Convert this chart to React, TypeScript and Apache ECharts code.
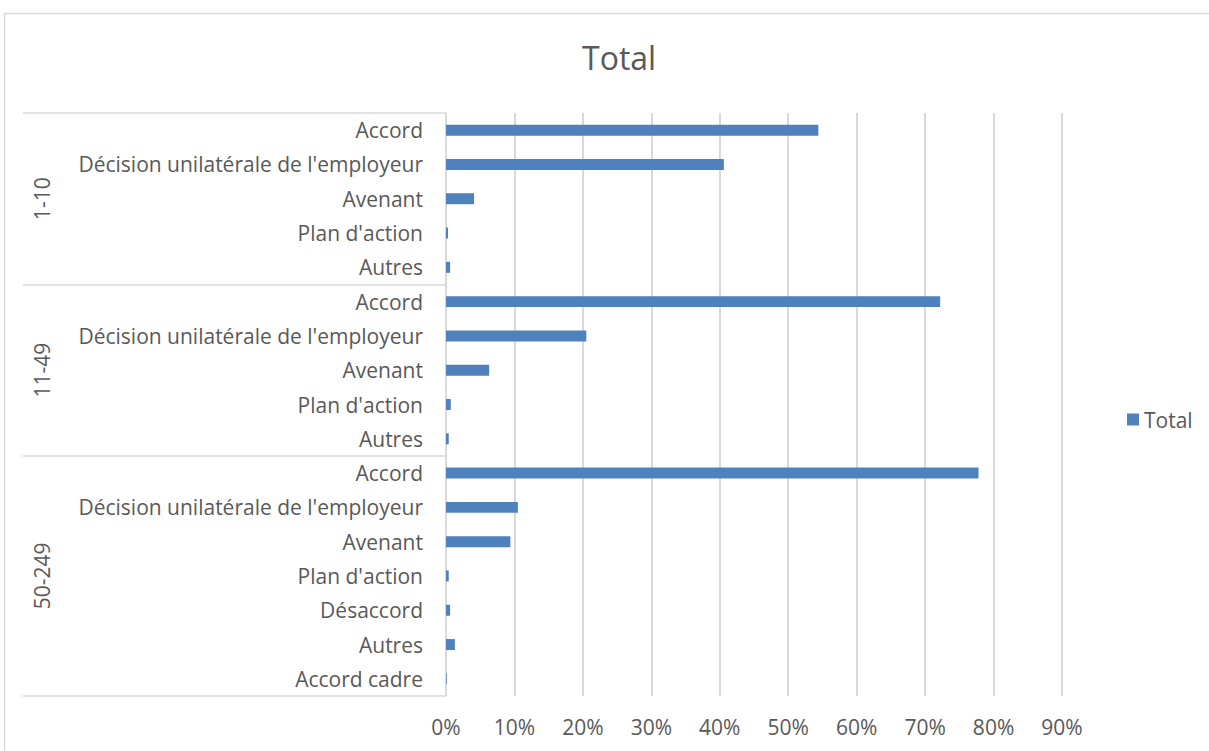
import React, { useEffect, useRef } from "react";
import * as echarts from "echarts";

const categories = [
  "Accord",
  "Décision unilatérale de l'employeur",
  "Avenant",
  "Plan d'action",
  "Autres",
  "Accord",
  "Décision unilatérale de l'employeur",
  "Avenant",
  "Plan d'action",
  "Autres",
  "Accord",
  "Décision unilatérale de l'employeur",
  "Avenant",
  "Plan d'action",
  "Désaccord",
  "Autres",
  "Accord cadre",
];
const values = [54.4, 40.6, 4.1, 0.3, 0.6, 72.2, 20.5, 6.3, 0.7, 0.4, 77.8, 10.5, 9.4, 0.4, 0.6, 1.3, 0.1];
const groupNames = ["1-10", "11-49", "50-249"];
const groupSizes = [5, 5, 7];
const seriesName = "Total";
const textColor = "#595959";
const gridColor = "#d9d9d9";
const barColor = "#4f81bd";
const font = "'Open Sans', sans-serif";

// boundaries (category indices) where a group starts, plus the end
const boundaries: number[] = [0];
groupSizes.forEach((s) => boundaries.push(boundaries[boundaries.length - 1] + s));

export default function App() {
  const ref = useRef<HTMLDivElement>(null);
  useEffect(() => {
    document.body.style.margin = "0";
    const chart = echarts.init(ref.current!, null, { renderer: "svg" });
    chart.setOption({
      animation: false,
      backgroundColor: "#ffffff",
      title: {
        text: "Total",
        left: 577,
        top: 36,
        textStyle: { fontFamily: font, fontSize: 32, fontWeight: "normal", color: textColor },
      },
      legend: {
        data: [seriesName],
        orient: "vertical",
        left: 1122,
        top: 404,
        icon: "rect",
        itemWidth: 12,
        itemHeight: 12,
        textStyle: { fontFamily: font, fontSize: 21, color: textColor },
      },
      grid: { left: 446, right: 147, top: 113, bottom: 55, containLabel: false },
      xAxis: {
        type: "value",
        min: 0,
        max: 90,
        interval: 10,
        axisLine: { show: false },
        axisTick: { show: false },
        splitLine: { show: true, lineStyle: { color: gridColor, width: 2 } },
        axisLabel: {
          formatter: "{value}%",
          margin: 20,
          fontFamily: font,
          fontSize: 21,
          color: textColor,
        },
      },
      yAxis: {
        type: "category",
        inverse: true,
        data: categories,
        axisLine: { show: true, lineStyle: { color: gridColor, width: 1.5 } },
        axisTick: {
          show: true,
          length: 423,
          lineStyle: { color: gridColor, width: 1.5 },
          interval: (index: number) => boundaries.indexOf(index) >= 0,
        },
        axisLabel: {
          margin: 23,
          fontFamily: font,
          fontSize: 21,
          color: textColor,
          interval: 0,
        },
      },
      series: [
        {
          name: seriesName,
          type: "bar",
          data: values,
          barCategoryGap: "68%",
          itemStyle: { color: barColor },
        },
      ],
    });

    // group labels placed via the axis scale
    const groupGraphics: any[] = [];
    groupNames.forEach((g, i) => {
      const first = boundaries[i];
      const last = boundaries[i + 1] - 1;
      const y1 = chart.convertToPixel({ yAxisIndex: 0 }, first) as number;
      const y2 = chart.convertToPixel({ yAxisIndex: 0 }, last) as number;
      groupGraphics.push({
        type: "text",
        x: 42,
        y: (y1 + y2) / 2,
        rotation: Math.PI / 2,
        style: {
          text: g,
          fontFamily: font,
          fontSize: 21,
          fill: textColor,
          align: "center",
          verticalAlign: "middle",
        },
      });
    });
    groupGraphics.push({
      type: "rect",
      shape: { x: 4.5, y: 13.5, width: 1400, height: 900 },
      style: { fill: "none", stroke: gridColor, lineWidth: 1.5 },
      silent: true,
    });
    chart.setOption({ graphic: groupGraphics });
    return () => chart.dispose();
  }, []);
  return <div ref={ref} style={{ width: 1209, height: 751 }} />;
}
